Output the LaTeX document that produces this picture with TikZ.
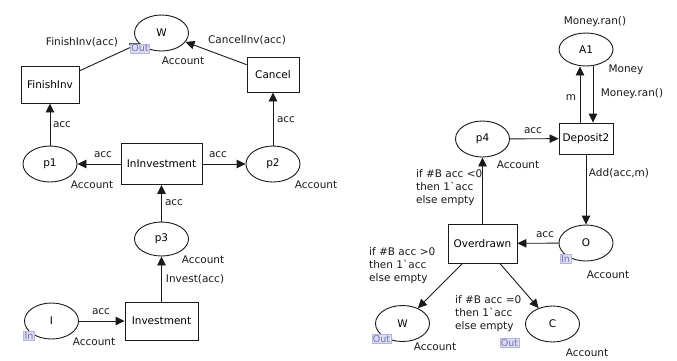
\documentclass[tikz,border=0pt]{standalone}
\usepackage{fontspec}
\setmainfont{DejaVu Sans}
\usetikzlibrary{arrows.meta,shapes.geometric}
\definecolor{tagfill}{HTML}{DCDCF2}
\definecolor{tagdraw}{HTML}{B4B4DC}
\definecolor{tagtext}{HTML}{7474B8}
\definecolor{ink}{HTML}{1A1A1A}
\tikzset{
  place/.style={draw=ink, line width=0.9pt, ellipse, inner sep=0pt, minimum width=54pt, minimum height=36pt, font=\fontsize{10.5}{12}\selectfont},
  trans/.style={draw=ink, line width=0.9pt, rectangle, inner sep=0pt, font=\fontsize{10.5}{12}\selectfont},
  lbl/.style={inner sep=0pt, text=ink, font=\fontsize{10.5}{12}\selectfont},
  mlbl/.style={inner sep=0pt, text=ink, align=left, font=\fontsize{10.5}{13}\selectfont},
  tag/.style={rectangle, fill=tagfill, draw=tagdraw, line width=0.5pt, text=tagtext, inner sep=1pt, font=\fontsize{9.5}{10}\selectfont},
  arr/.style={draw=ink, line width=0.9pt, -{Triangle[length=9pt,width=8.5pt]}},
  ln/.style={draw=ink, line width=0.9pt}
}
\begin{document}
\begin{tikzpicture}[x=1pt,y=-1pt]
\useasboundingbox[fill=white] (0,0) rectangle (677,360);
% ---------- left net ----------
\node[place] (wl) at (161.5,33) {W};
\node[trans, minimum width=58pt, minimum height=37pt] (fi) at (50,84.5) {FinishInv};
\node[trans, minimum width=52pt, minimum height=35pt] (ca) at (273,74.5) {Cancel};
\node[place] (p1) at (50,164) {p1};
\node[trans, minimum width=81pt, minimum height=41pt] (ii) at (161.5,164) {InInvestment};
\node[place] (p2) at (273,164) {p2};
\node[place, minimum height=34pt] (p3) at (161.5,239) {p3};
\node[trans, minimum width=73pt, minimum height=38pt] (inv) at (161.5,321) {Investment};
\node[place] (il) at (51.5,321) {I};

\draw[arr] (fi) -- (wl);
\draw[arr] (ca) -- (wl);
\draw[arr] (p1) -- (fi);
\draw[arr] (p2) -- (ca);
\draw[arr] (ii) -- (p1);
\draw[arr] (ii) -- (p2);
\draw[arr] (p3) -- (ii);
\draw[arr] (inv) -- (p3);
\draw[arr] (il) -- (inv);

\node[tag] (twl) at (140,48.5) {Out};
\node[tag] (til) at (29,336) {In};

\node[lbl] (l1) at (82,42) {FinishInv(acc)};
\node[lbl] (l2) at (247,40) {CancelInv(acc)};
\node[lbl] (l3) at (183,61) {Account};
\node[lbl] (l4) at (62,125) {acc};
\node[lbl] (l5) at (286,120) {acc};
\node[lbl] (l6) at (103,155) {acc};
\node[lbl] (l7) at (218,155) {acc};
\node[lbl] (l8) at (92,185) {Account};
\node[lbl] (l9) at (316,185) {Account};
\node[lbl] (l10) at (174,203) {acc};
\node[lbl] (l11) at (203,260) {Account};
\node[lbl] (l12) at (195,279) {Invest(acc)};
\node[lbl] (l13) at (101,312) {acc};
\node[lbl] (l14) at (94,342) {Account};

% ---------- right net ----------
\node[place, minimum height=33pt] (a1) at (586,49.5) {A1};
\node[trans, minimum width=54pt, minimum height=31pt] (dep) at (586,138.5) {Deposit2};
\node[place] (p4) at (482.5,139) {p4};
\node[place] (o) at (586,243) {O};
\node[trans, minimum width=69pt, minimum height=39pt] (ov) at (482.5,243.5) {Overdrawn};
\node[place] (wr) at (402.5,323.5) {W};
\node[place] (c) at (552.5,324) {C};

\draw[arr] ([xshift=-6pt]dep.north) -- ([xshift=-6pt]a1.south);
\draw[arr] ([xshift=7pt]a1.south) -- ([xshift=7pt]dep.north);
\draw[arr] (p4) -- (dep);
\draw[arr] (dep) -- (o);
\draw[arr] (o) -- (ov);
\draw[arr] (ov) -- (p4);
\draw[arr] (ov) -- (wr);
\draw[arr] (ov) -- (c);

\node[tag] (to) at (565.5,259) {In};
\node[tag] (twr) at (381.5,339) {Out};
\node[tag] (tc) at (509.5,343) {Out};

\node[lbl] (r1) at (595,22) {Money.ran()};
\node[lbl] (r2) at (626,70) {Money};
\node[lbl] (r3) at (632,94) {Money.ran()};
\node[lbl] (r4) at (571,98) {m};
\node[lbl] (r5) at (533,131) {acc};
\node[lbl] (r6) at (518,165) {Account};
\node[lbl] (r7) at (619,173) {Add(acc,m)};
\node[lbl] (r8) at (545,235) {acc};
\node[lbl] (r9) at (608,275) {Account};
\node[lbl] (r10) at (435,347) {Account};
\node[lbl] (r11) at (587,353) {Account};
\node[mlbl, anchor=west] (g1) at (416,188) {if \#B acc <0\\then 1\textasciigrave acc\\else empty};
\node[mlbl, anchor=west] (g2) at (369,266) {if \#B acc >0\\then 1\textasciigrave acc\\else empty};
\node[mlbl, anchor=west] (g3) at (455,314) {if \#B acc =0\\then 1\textasciigrave acc\\else empty};
\end{tikzpicture}
\end{document}
